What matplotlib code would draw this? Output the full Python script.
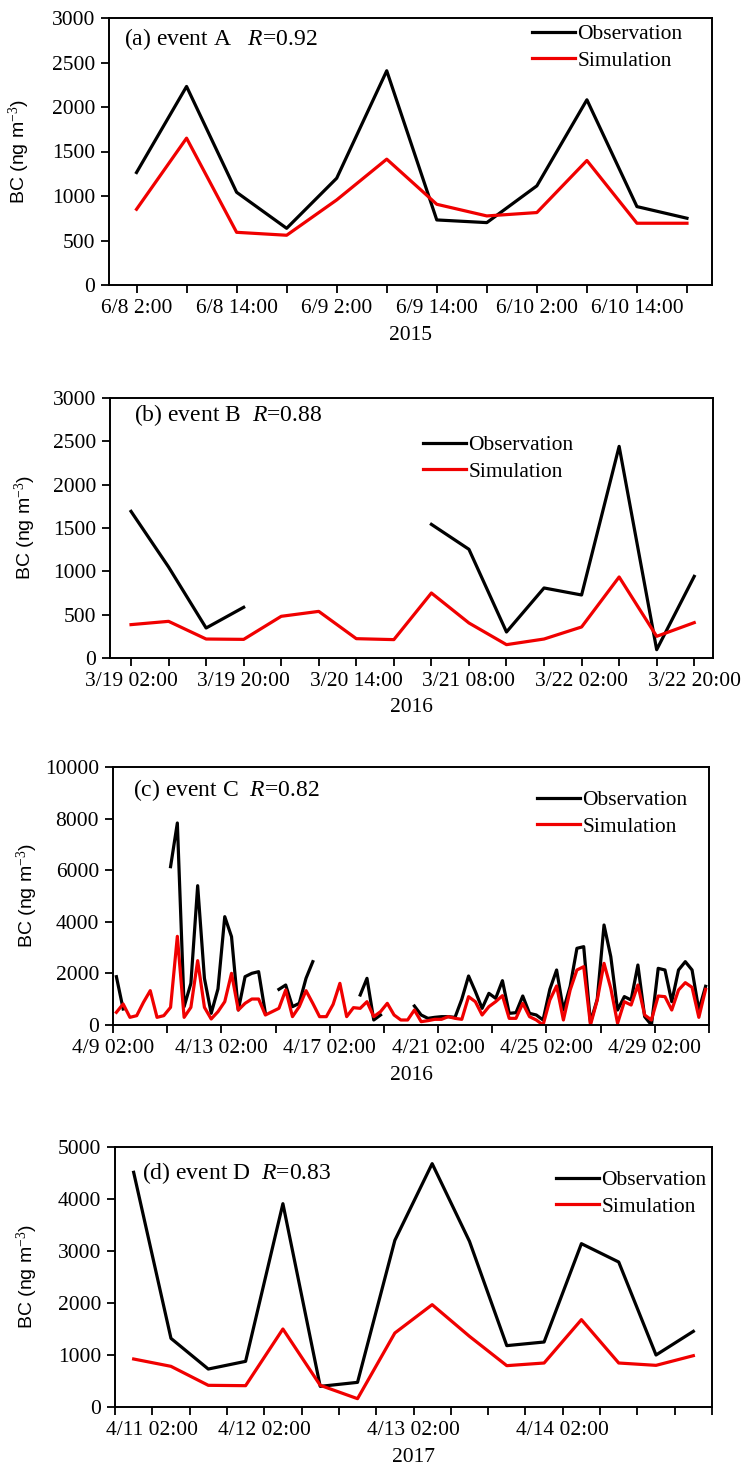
import matplotlib.pyplot as plt
import numpy as np

plt.rcParams["font.family"] = ["Liberation Serif", "DejaVu Serif"]
plt.rcParams["mathtext.fontset"] = "custom"
plt.rcParams["mathtext.rm"] = "Liberation Serif"
plt.rcParams["mathtext.it"] = "Liberation Serif:italic"

nan = np.nan

# (a) event A, 6-hourly from 6/8 2:00
a_labels = ["6/8 2:00", "6/8 14:00", "6/9 2:00", "6/9 14:00", "6/10 2:00", "6/10 14:00"]
a_obs = [1264, 2231, 1042, 637, 1200, 2407, 731, 701, 1114, 2081, 881, 750]
a_sim = [851, 1650, 592, 559, 956, 1414, 907, 776, 814, 1399, 694, 694]

# (b) event B, 6-hourly from 3/19 02:00
b_labels = ["3/19 02:00", "3/19 20:00", "3/20 14:00", "3/21 08:00", "3/22 02:00", "3/22 20:00"]
b_obs = [1692, 1050, 346, 585, nan, nan, nan, nan, 1542, 1254, 300, 808, 727, 2442, 96, 942]
b_sim = [385, 423, 219, 215, 481, 538, 223, 212, 750, 404, 154, 219, 358, 935, 250, 408]

# (c) event C, 6-hourly from 4/9 02:00
c_labels = ["4/9 02:00", "4/13 02:00", "4/17 02:00", "4/21 02:00", "4/25 02:00", "4/29 02:00"]
c_obs = [1873, 620, nan, nan, nan, nan, nan, nan,
         6137, 7830, 710, 1615, 5400, 1809, 452, 1400,
         4199, 3424, 581, 1873, 2003, 2067, 452, nan,
         1382, 1550, 710, 840, 1809, 2455, nan, nan,
         nan, nan, nan, nan, 1163, 1809, 194, 388,
         nan, nan, nan, nan, 736, 388, 258, 297,
         323, 323, 297, 1000, 1899, 1300, 646, 1227,
         1034, 1718, 452, 478, 1124, 452, 388, 194,
         1382, 2132, 581, 1500, 2972, 3036, 100, 1000,
         3876, 2648, 581, 1100, 970, 2325, 323, 0,
         2196, 2132, 905, 2132, 2455, 2132, 581, 1500]
c_sim = [491, 814, 297, 362, 880, 1331, 297, 362,
         685, 3437, 297, 685, 2494, 685, 233, 517,
         904, 2003, 581, 840, 1007, 1007, 388, 517,
         646, 1357, 323, 711, 1331, 840, 323, 323,
         800, 1615, 323, 672, 646, 904, 323, 517,
         840, 388, 194, 194, 581, 129, 168, 220,
         220, 323, 258, 220, 1098, 904, 388, 711,
         904, 1137, 258, 258, 840, 323, 194, 0,
         969, 1512, 194, 1357, 2132, 2261, 0, 969,
         2390, 1421, 65, 904, 775, 1550, 388, 194,
         1124, 1098, 581, 1357, 1641, 1460, 297, 1382]

# (d) event D
d_labels = ["4/11 02:00", "4/12 02:00", "4/13 02:00", "4/14 02:00"]
d_obs = [4513, 1320, 730, 878, 3910, 397, 474, 3205, 4680, 3186, 1180, 1250, 3141, 2788, 1000, 1455]
d_sim = [923, 782, 417, 410, 1500, 417, 160, 1423, 1968, 1359, 795, 846, 1680, 846, 801, 987]

W, H = 741, 1468
fig = plt.figure(figsize=(W / 100, H / 100), dpi=100)
FS = 15.5
TFS = 17


def rect(l, r, t, b):
    return [l / W, 1 - b / H, (r - l) / W, (b - t) / H]


def style(ax, ymax, ystep, ylab_px, left_px):
    ax.set_ylim(0, ymax)
    ax.set_yticks(np.arange(0, ymax + 1, ystep))
    ax.tick_params(direction="out", length=6, width=1.3, labelsize=FS, pad=4)
    for s in ax.spines.values():
        s.set_linewidth(1.4)
    ax.set_ylabel("BC (ng m$^{-3}$)", family="Liberation Sans", fontsize=14)
    width = ax.get_position().width * W
    ax.yaxis.set_label_coords((ylab_px - left_px) / width, 0.5)


def draw(ax, x, obs, sim, leg_x, leg_y):
    ax.plot(x, obs, color="black", lw=2.3, label="Observation")
    ax.plot(x, sim, color="#f00000", lw=2.3, label="Simulation")
    ax.legend(loc="upper left", bbox_to_anchor=(leg_x, leg_y), frameon=False,
              fontsize=FS, handlelength=2.0, handletextpad=0.1,
              labelspacing=0.3, borderpad=0, borderaxespad=0)


def year(ax, txt, y_px, l, r):
    fig.text((l + r) / 2 / W, 1 - y_px / H, txt, ha="center", va="center", fontsize=FS)


# panel a
l, r, t, b = 109, 712, 18, 285
ax = fig.add_axes(rect(l, r, t, b))
xa = np.arange(len(a_obs))
draw(ax, xa, a_obs, a_sim, (532 - l) / (r - l), 1 - (24 - t) / (b - t))
ax.set_xlim(-0.55, len(a_obs) - 0.5)
ax.set_xticks(xa)
ax.set_xticklabels([a_labels[i // 2] if i % 2 == 0 else "" for i in xa])
style(ax, 3000, 500, 32, l)
ax.text((124 - l) / (r - l), 1 - (39 - t) / (b - t), "(a) event A   $R$=0.92",
        transform=ax.transAxes, fontsize=TFS, va="center")
year(ax, "2015", b + 50, l, r)

# panel b
l, r, t, b = 110, 713, 398, 658
ax = fig.add_axes(rect(l, r, t, b))
xb = np.arange(len(b_obs))
draw(ax, xb, b_obs, b_sim, (423 - l) / (r - l), 1 - (435 - t) / (b - t))
ax.set_xlim(-0.56, len(b_obs) - 0.5)
ax.set_xticks(xb)
ax.set_xticklabels([b_labels[i // 3] if i % 3 == 0 else "" for i in xb])
style(ax, 3000, 500, 38, l)
ax.text((134 - l) / (r - l), 1 - (415 - t) / (b - t), "(b) event B  $R$=0.88",
        transform=ax.transAxes, fontsize=TFS, va="center")
year(ax, "2016", b + 50, l, r)

# panel c
l, r, t, b = 113, 709, 767, 1025
ax = fig.add_axes(rect(l, r, t, b))
xc = np.arange(len(c_obs)) + 0.5
draw(ax, xc, c_obs, c_sim, (537 - l) / (r - l), 1 - (790 - t) / (b - t))
ax.set_xlim(0, len(c_obs))
ct = np.arange(0, len(c_obs) + 1, 8)
ax.set_xticks(ct)
ax.set_xticklabels([c_labels[k // 2] if k % 2 == 0 and k // 2 < len(c_labels) else ""
                    for k in range(len(ct))])
style(ax, 10000, 2000, 40, l)
ax.text((133 - l) / (r - l), 1 - (790 - t) / (b - t), "(c) event C  $R$=0.82",
        transform=ax.transAxes, fontsize=TFS, va="center")
year(ax, "2016", b + 50, l, r)

# panel d
l, r, t, b = 115, 712, 1147, 1407
ax = fig.add_axes(rect(l, r, t, b))
xd = np.arange(len(d_obs)) + 0.5
draw(ax, xd, d_obs, d_sim, (556 - l) / (r - l), 1 - (1170 - t) / (b - t))
ax.set_xlim(0, len(d_obs))
dt = np.arange(0, len(d_obs) + 1)
ax.set_xticks(dt)
d_pos = {1: 0, 4: 1, 8: 2, 12: 3}
ax.set_xticklabels([d_labels[d_pos[k]] if k in d_pos else "" for k in dt])
style(ax, 5000, 1000, 40, l)
ax.text((142 - l) / (r - l), 1 - (1173 - t) / (b - t), "(d) event D  $R$=0.83",
        transform=ax.transAxes, fontsize=TFS, va="center")
year(ax, "2017", b + 50, l, r)

fig.savefig("out.png", dpi=100)
